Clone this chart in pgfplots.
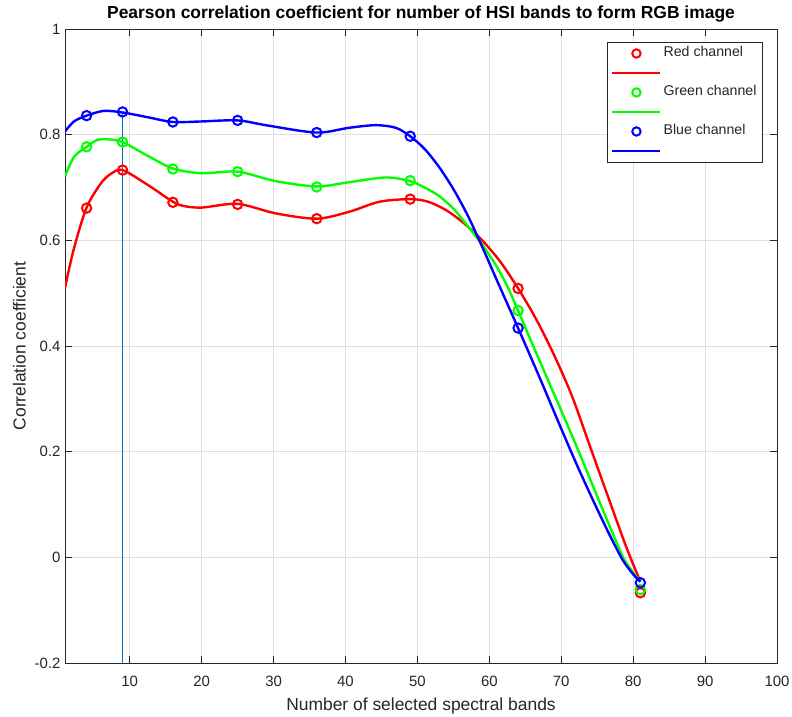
\documentclass[border=0pt]{standalone}
\usepackage{fontspec}
\setmainfont{Liberation Sans}
\usepackage{pgfplots}
\usepackage{pgfplotstable}
\pgfplotsset{compat=1.18}

\definecolor{axgray}{rgb}{0.15,0.15,0.15}
\definecolor{gridgray}{rgb}{0.87,0.87,0.87}
\definecolor{mlblue}{rgb}{0,0.447,0.741}

% measured correlation per number of selected bands
\pgfplotstableread{
x    r       g       b
4    0.661   0.777   0.836
9    0.733   0.786   0.843
16   0.672   0.735   0.824
25   0.668   0.730   0.827
36   0.641   0.701   0.804
49   0.678   0.713   0.797
64   0.509   0.467   0.434
81   -0.067  -0.061  -0.048
}\measured

% fitted curves (spline through the measurements)
\pgfplotstableread{
x     y
1     0.510
2.25  0.585
4     0.662
6     0.708
7.4   0.726
9     0.733
12.5  0.705
16    0.673
17.5  0.665
20    0.662
25    0.669
30.3  0.651
36    0.641
40.5  0.654
44.7  0.673
49    0.678
51.5  0.673
54    0.657
56.5  0.632
59    0.600
61.5  0.560
64    0.509
66.5  0.451
69    0.383
71.5  0.305
74    0.210
76.5  0.115
79    0.021
81    -0.046
}\redcurve

\pgfplotstableread{
x     y
1     0.721
2.25  0.758
4     0.777
5.5   0.790
7.1   0.791
9     0.786
12.5  0.760
16    0.736
20    0.727
25    0.730
30.3  0.712
36    0.702
40.5  0.710
45.6  0.719
49    0.712
51    0.700
53    0.684
55    0.660
57    0.627
59    0.592
61    0.551
62.5  0.513
64    0.467
66.1  0.400
68.3  0.331
70.5  0.262
72.5  0.198
74.8  0.122
76.8  0.057
78.8  -0.005
81    -0.046
}\greencurve

\pgfplotstableread{
x     y
1     0.806
2.25  0.825
4     0.836
6.4   0.845
9     0.842
12.5  0.833
16    0.824
20    0.825
25    0.827
29.3  0.817
36    0.804
40.5  0.813
44.2  0.818
47    0.813
49    0.797
51    0.773
53    0.739
55    0.697
57    0.647
59    0.588
61    0.526
62.5  0.480
64    0.434
67    0.340
70.2  0.237
72.5  0.165
74.8  0.097
76.6  0.046
78.5  -0.004
80    -0.032
81    -0.046
}\bluecurve

\begin{document}
\begin{tikzpicture}
\begin{axis}[
  scale only axis,
  width=712bp, height=634bp,
  xmin=1, xmax=100, ymin=-0.2, ymax=1,
  xtick={10,20,...,100},
  ytick={-0.2,0,0.2,0.4,0.6,0.8,1},
  yticklabels={-0.2,0,0.2,0.4,0.6,0.8,1},
  /pgf/number format/assume math mode=true,
  tick align=inside,
  major tick length=7bp,
  grid=major,
  grid style={gridgray, line width=0.6bp},
  axis line style={axgray, line width=0.8bp},
  tick style={axgray, line width=0.8bp},
  ticklabel style={font=\fontsize{15}{17}\selectfont, text=axgray},
  xticklabel style={yshift=-10bp},
  yticklabel style={xshift=-1bp},
  xlabel={Number of selected spectral bands},
  ylabel={Correlation coefficient},
  label style={font=\fontsize{17.5}{20}\selectfont, text=axgray},
  xlabel style={yshift=-4bp},
  ylabel style={yshift=2bp},
  title={Pearson correlation coefficient for number of HSI bands to form RGB image},
  title style={font=\bfseries\fontsize{17.5}{20}\selectfont, yshift=-3bp},
  legend cell align=left,
  legend style={at={(0.98,0.98)}, anchor=north east,
    draw=axgray, line width=0.6bp, fill=white,
    font=\fontsize{14.2}{16}\selectfont, text=axgray,
    inner xsep=4bp, inner ysep=3bp, row sep=2.5bp,
    nodes={inner sep=2bp, text height=10bp, text depth=3bp}},
]
% marker for the chosen band count
\addplot[mlblue, line width=0.7bp, forget plot] coordinates {(9,-0.2) (9,0.843)};

\addplot[red, line width=2.4bp, smooth, forget plot] table[x=x, y=y] {\redcurve};
\addplot[green, line width=2.4bp, smooth, forget plot] table[x=x, y=y] {\greencurve};
\addplot[blue, line width=2.4bp, smooth, forget plot] table[x=x, y=y] {\bluecurve};

\addplot[red, only marks, mark=o, mark size=4.7bp, line width=2bp, forget plot] table[x=x, y=r] {\measured};
\addplot[green, only marks, mark=o, mark size=4.7bp, line width=2bp, forget plot] table[x=x, y=g] {\measured};
\addplot[blue, only marks, mark=o, mark size=4.7bp, line width=2bp, forget plot] table[x=x, y=b] {\measured};

% legend: marker row, then line row, per channel
\addlegendimage{legend image code/.code={\draw[red, line width=2bp] (24bp,0) circle (4.2bp);}}
\addlegendentry{Red channel}
\addlegendimage{legend image code/.code={\draw[red, line width=2.4bp] (0,0) -- (48bp,0);}}
\addlegendentry{}
\addlegendimage{legend image code/.code={\draw[green, line width=2bp] (24bp,0) circle (4.2bp);}}
\addlegendentry{Green channel}
\addlegendimage{legend image code/.code={\draw[green, line width=2.4bp] (0,0) -- (48bp,0);}}
\addlegendentry{}
\addlegendimage{legend image code/.code={\draw[blue, line width=2bp] (24bp,0) circle (4.2bp);}}
\addlegendentry{Blue channel}
\addlegendimage{legend image code/.code={\draw[blue, line width=2.4bp] (0,0) -- (48bp,0);}}
\addlegendentry{}
\end{axis}
\pgfresetboundingbox
\path[use as bounding box] ([xshift=-65bp,yshift=-53bp]current axis.south west)
  rectangle ([xshift=15bp,yshift=29bp]current axis.north east);
\end{tikzpicture}
\end{document}
